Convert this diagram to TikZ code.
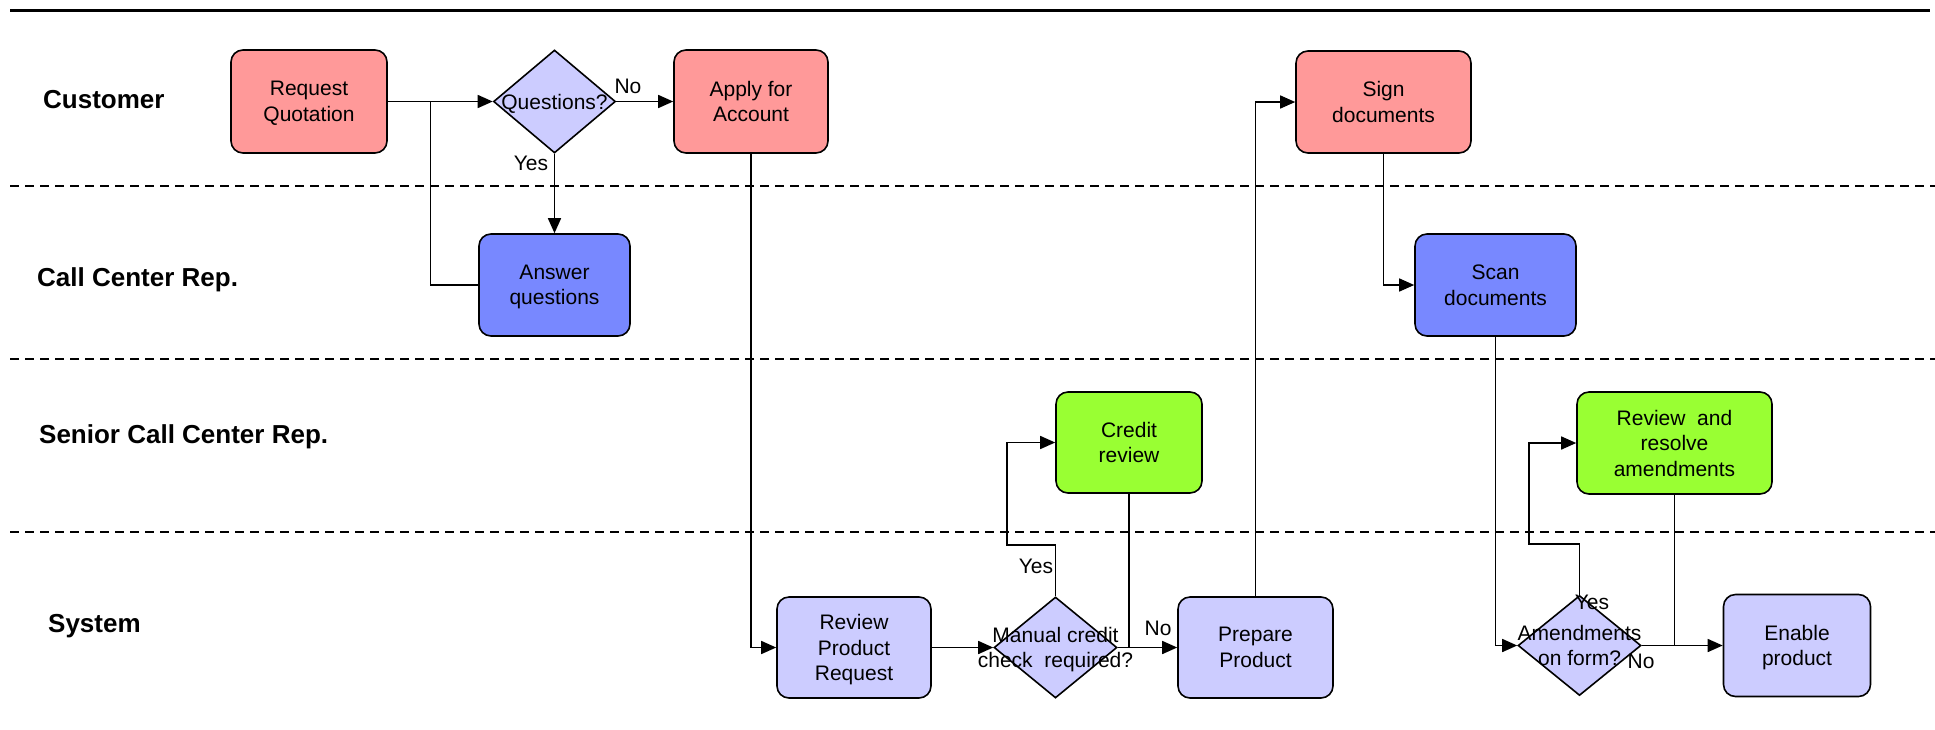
\documentclass[tikz,border=0pt]{standalone}
\usepackage{fontspec}
\setmainfont{Liberation Sans}
\usetikzlibrary{shapes.geometric,arrows.meta}
\definecolor{custpink}{HTML}{FF9999}
\definecolor{repblue}{HTML}{7888FF}
\definecolor{srgreen}{HTML}{99FF33}
\definecolor{syslav}{HTML}{CCCCFF}
\begin{document}
\begin{tikzpicture}[x=1pt,y=-1pt,
  box/.style={draw, line width=1.6pt, rounded corners=12pt, align=center,
    font=\fontsize{21}{25.5}\selectfont, inner sep=0pt, text depth=0pt},
  diam/.style={diamond, draw, line width=1.6pt, fill=syslav, inner sep=0pt},
  dtext/.style={align=center, font=\fontsize{21}{25}\selectfont, inner sep=0pt, text depth=0pt},
  lane/.style={anchor=base west, font=\bfseries\fontsize{26}{30}\selectfont, inner sep=0pt},
  lbl/.style={font=\fontsize{21}{25}\selectfont, inner sep=0pt},
  conn/.style={line width=1.5pt},
  arr/.style={conn, -{Triangle[length=15pt,width=13pt]}},
  sep/.style={line width=1.6pt, dash pattern=on 9pt off 6pt}
]
\useasboundingbox (0,0) rectangle (1935,729);

% top rule and lane separators
\draw[line width=3pt] (10,10) -- (1930,10);
\draw[sep] (10,186) -- (1935,186);
\draw[sep] (10,359) -- (1935,359);
\draw[sep] (10,532) -- (1935,532);

% lane labels
\node[lane] (l1) at (43,108) {Customer};
\node[lane] (l2) at (37,286) {Call Center Rep.};
\node[lane] (l3) at (39,443) {Senior Call Center Rep.};
\node[lane] (l4) at (48,632) {System};

% nodes
\node[box, fill=custpink, minimum width=156pt, minimum height=103pt] (rq) at (309,101.5) {Request\\Quotation};
\node[diam, minimum width=122pt, minimum height=103pt,
  label={[dtext]center:Questions?}] (q) at (554.5,101.5) {};
\node[box, fill=custpink, minimum width=154pt, minimum height=103pt] (aa) at (751,101.5) {Apply for\\Account};
\node[box, fill=repblue, minimum width=151pt, minimum height=102pt] (aq) at (554.5,285) {Answer\\questions};
\node[box, fill=custpink, minimum width=175pt, minimum height=102pt] (sd) at (1383.5,102) {Sign\\documents};
\node[box, fill=repblue, minimum width=161pt, minimum height=102pt] (sc) at (1495.5,285) {Scan\\documents};
\node[box, fill=srgreen, minimum width=146pt, minimum height=101pt] (cr) at (1129,442.5) {Credit\\review};
\node[box, fill=srgreen, minimum width=195pt, minimum height=102pt] (rra) at (1674.5,443) {Review\ \ and\\resolve\\amendments};
\node[box, fill=syslav, minimum width=154pt, minimum height=101pt] (rpr) at (854,647.5) {Review\\Product\\Request};
\node[diam, minimum width=123pt, minimum height=101pt,
  label={[dtext]center:Manual credit\\check\ \ required?}] (mcd) at (1055.5,647.5) {};
\node[box, fill=syslav, minimum width=155pt, minimum height=101pt] (pp) at (1255.5,647.5) {Prepare\\Product};
\node[diam, minimum width=123pt, minimum height=100pt,
  label={[dtext]center:Amendments\\on form?}] (amd) at (1579.5,645.5) {};
\node[box, fill=syslav, minimum width=147pt, minimum height=102pt] (ep) at (1797,645.5) {Enable\\product};

% connectors
\draw[arr] (rq.east) -- (q.west);
\coordinate (j1) at (430.5,101.5);
\draw[conn] (aq.west) -| (j1);
\draw[arr] (q.south) -- (aq.north);
\node[lbl] (yes1) at (531,163) {Yes};
\draw[arr] (q.east) -- (aa.west);
\node[lbl] (no1) at (628,86) {No};
\draw[arr] (aa.south) |- (rpr.west);
\draw[arr] (rpr.east) -- (mcd.west);
\coordinate (k1) at (1007,545);
\draw[arr] (mcd.north) |- (k1) |- (cr.west);
\node[lbl] (yes2) at (1036,566) {Yes};
\draw[arr] (mcd.east) -- (pp.west);
\node[lbl] (no2) at (1158,628) {No};
\draw[conn] (cr.south) -- (cr.south |- mcd.east);
\draw[arr] (pp.north) |- (sd.west);
\draw[arr] (sd.south) |- (sc.west);
\draw[arr] (sc.south) |- (amd.west);
\coordinate (k2) at (1529,544);
\draw[arr] (amd.north) |- (k2) |- (rra.west);
\node[lbl] (yes3) at (1592,602) {Yes};
\draw[arr] (amd.east) -- (ep.west);
\node[lbl] (no3) at (1641,661) {No};
\draw[conn] (rra.south) -- (rra.south |- amd.east);
\end{tikzpicture}
\end{document}
